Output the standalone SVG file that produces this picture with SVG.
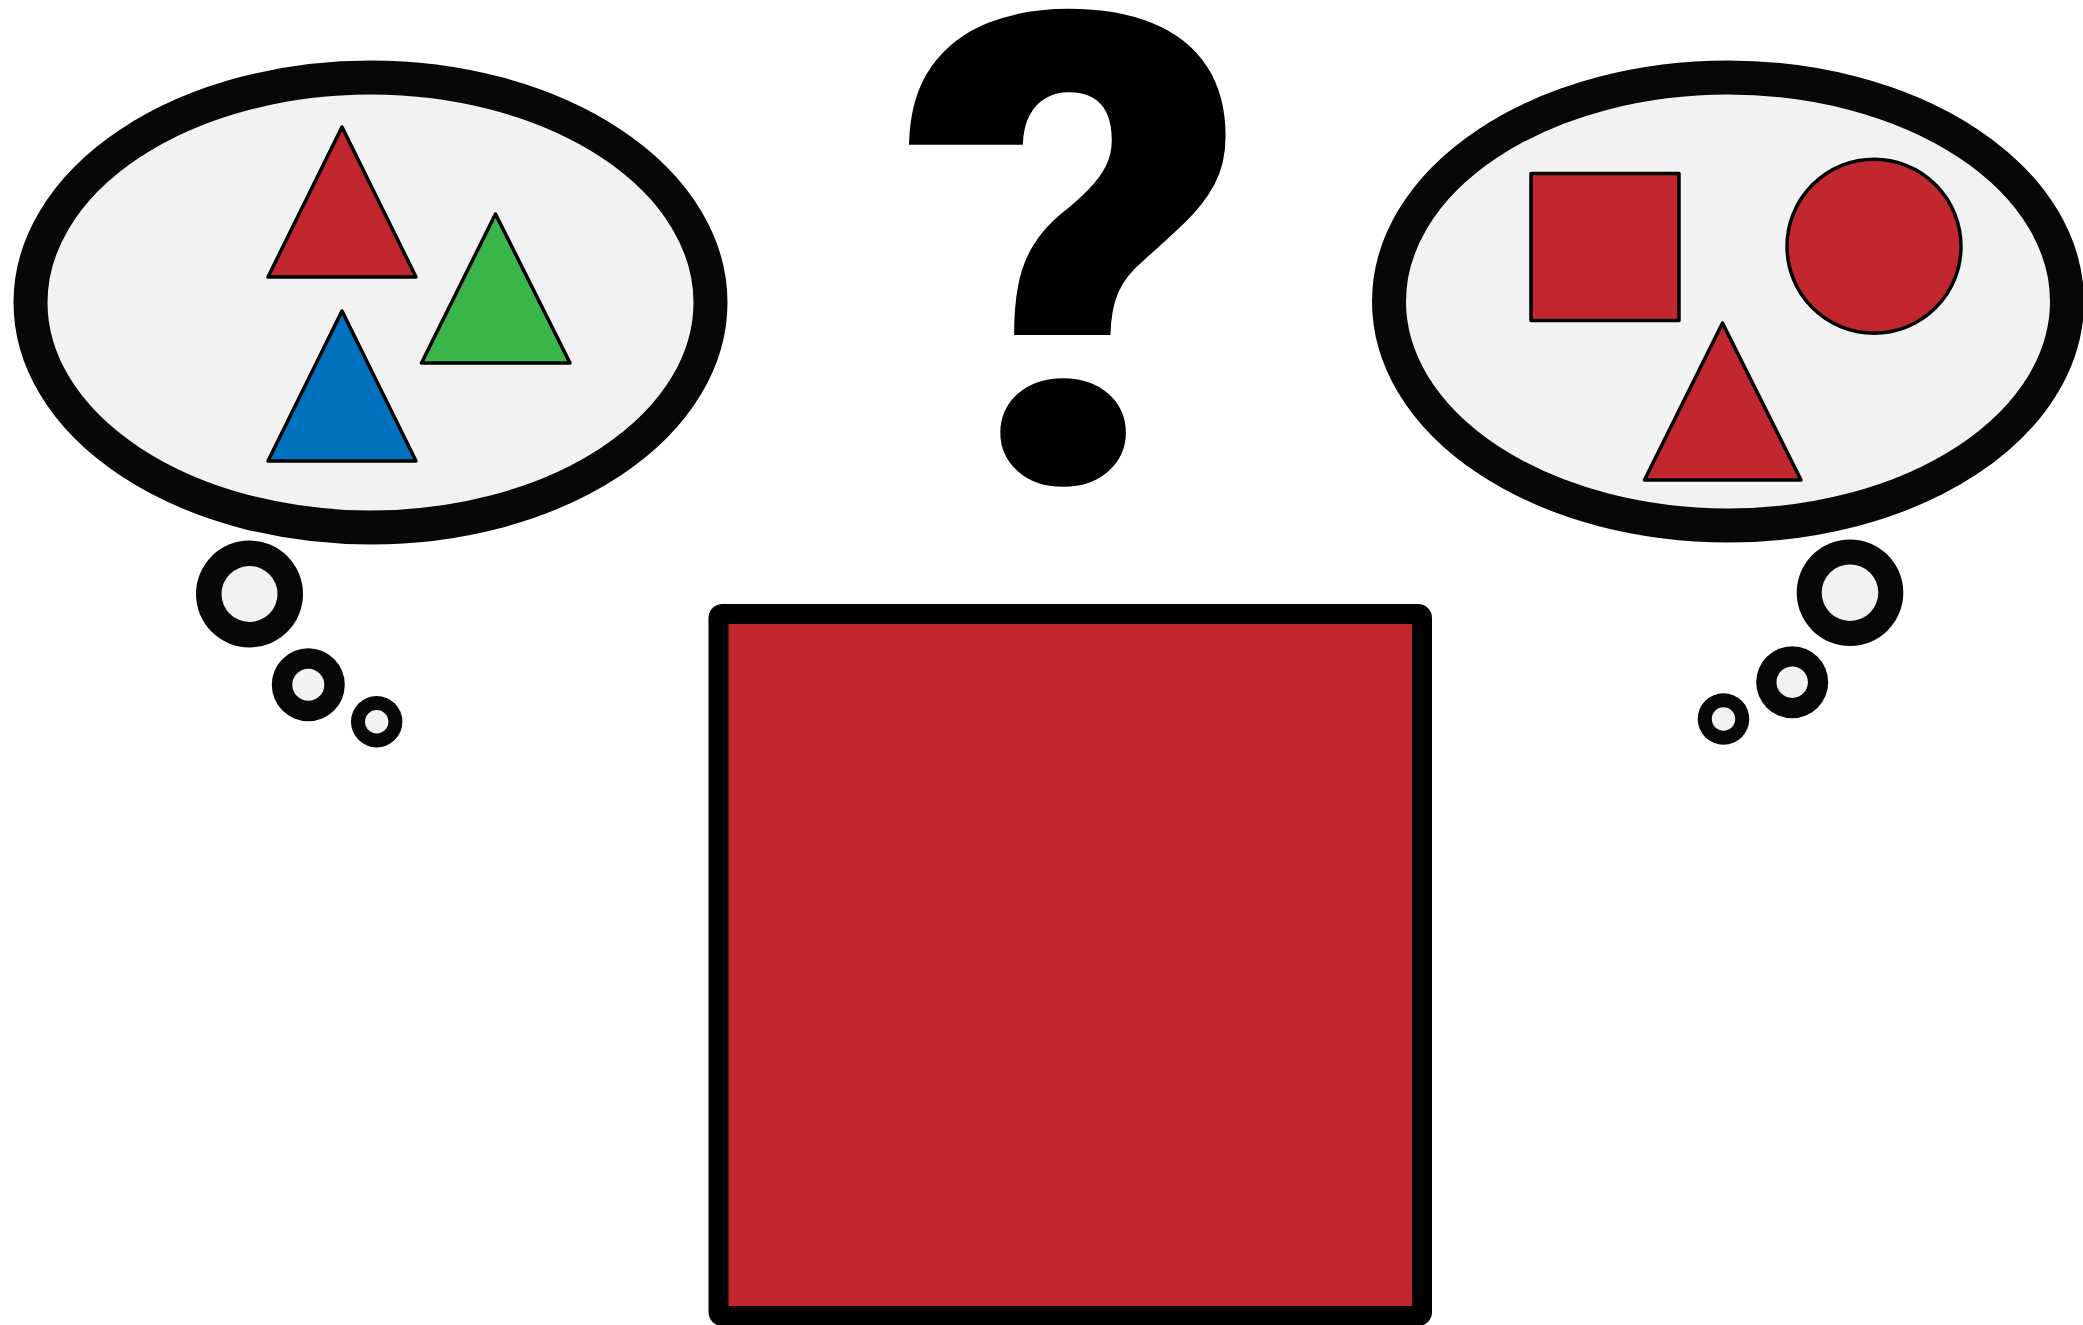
<svg xmlns="http://www.w3.org/2000/svg" width="2083" height="1325" viewBox="0 0 2083 1325">
<style>
.cloud{fill:#f2f2f2;stroke:#070707;stroke-width:34}
.ring{fill:#070707}
.hole{fill:#f2f2f2}
.shape{stroke:#000;stroke-width:3.5;stroke-linejoin:round}
.red{fill:#c1272d}.green{fill:#39b54a}.blue{fill:#0071bc}
.q{font-family:Roboto,"Noto Sans","Liberation Sans",sans-serif;font-weight:900;fill:#000}
</style>
<rect width="2083" height="1325" fill="#fff"/>
<g id="left-thought">
<ellipse class="cloud" cx="370.5" cy="302.5" rx="340" ry="225"/>
<polygon class="shape red" points="342,127 268,277 416,277"/>
<polygon class="shape green" points="495.5,214 421.5,363 570,363"/>
<polygon class="shape blue" points="342,311 268,461 416,461"/>
<circle class="ring" cx="249.5" cy="594" r="53.5"/><circle class="hole" cx="249.5" cy="594" r="28"/>
<circle class="ring" cx="308.3" cy="684.7" r="36.5"/><circle class="hole" cx="308.3" cy="684.7" r="16"/>
<circle class="ring" cx="376.7" cy="721.7" r="25.7"/><circle class="hole" cx="376.7" cy="721.7" r="11.7"/>
</g>
<g id="right-thought">
<ellipse class="cloud" cx="1728" cy="301.5" rx="339" ry="224"/>
<rect class="shape red" x="1531" y="173.5" width="148" height="147"/>
<circle class="shape red" cx="1874" cy="246.3" r="87"/>
<polygon class="shape red" points="1722.5,323 1644.5,480 1801,480"/>
<circle class="ring" cx="1850" cy="592.7" r="53.3"/><circle class="hole" cx="1850" cy="592.7" r="28.3"/>
<circle class="ring" cx="1792.2" cy="682.2" r="36"/><circle class="hole" cx="1792.2" cy="682.2" r="15.7"/>
<circle class="ring" cx="1723.5" cy="719" r="25.8"/><circle class="hole" cx="1723.5" cy="719" r="11.7"/>
</g>
<g id="question" transform="translate(1066,483) scale(1.045,1)">
<text class="q" x="7.5" y="0" font-size="658" text-anchor="middle">?</text>
</g>
<g id="big-square">
<rect x="718.5" y="614" width="703.5" height="702" rx="4" fill="#c1272d" stroke="#000" stroke-width="20" stroke-linejoin="round"/>
</g>
</svg>
